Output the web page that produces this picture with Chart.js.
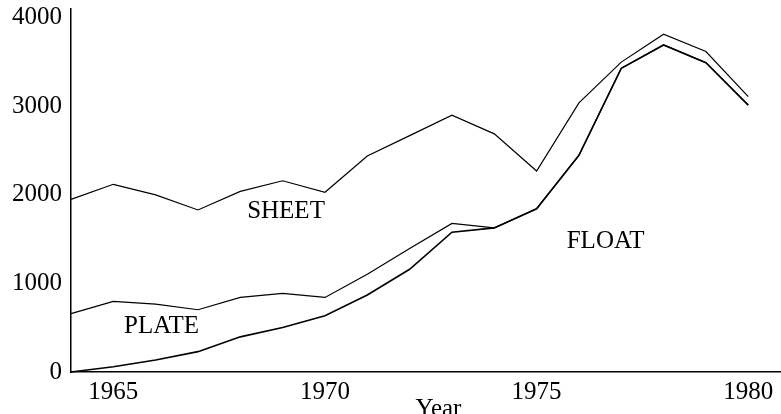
<!DOCTYPE html>
<html>
<head>
<meta charset="utf-8">
<script src="https://cdn.jsdelivr.net/npm/chart.js@4"></script>
<style>
  html, body { margin: 0; padding: 0; background: #fff; }
  #wrap { width: 781px; height: 414px; }
</style>
</head>
<body>
<div id="wrap"><canvas id="c" width="781" height="414"></canvas></div>
<script>
const years = [1964,1965,1966,1967,1968,1969,1970,1971,1972,1973,1974,1975,1976,1977,1978,1979,1980];
const sheet = [1950,2120,2000,1830,2040,2160,2030,2440,2670,2900,2690,2270,3040,3500,3815,3620,3110];
const plate = [660,797,767,703,842,887,842,1105,1395,1678,1628,1844,2448,3430,3694,3494,3014];
const floatGlass = [0,60,136,230,397,502,635,870,1160,1579,1628,1844,2448,3430,3694,3494,3014];
const xTicks = [1965,1970,1975,1980];
const yTicks = [0,1000,2000,3000,4000];
const seriesLabels = [
  { text: 'SHEET', x: 1969.08, y: 1740 },
  { text: 'PLATE', x: 1966.14, y: 441 },
  { text: 'FLOAT', x: 1976.63, y: 1401 }
];
const axisTitleX = { text: 'Year', x: 1972.68, y: -497 };

const FONT = '"Liberation Serif", "Times New Roman", Times, serif';

const toPts = (arr) => years.map((yr, i) => ({ x: yr, y: arr[i] }));

const labelPlugin = {
  id: 'labels',
  afterDraw(chart) {
    const ctx = chart.ctx;
    const xs = chart.scales.x, ys = chart.scales.y;
    ctx.save();
    ctx.fillStyle = '#000';
    ctx.font = '25px ' + FONT;
    ctx.textAlign = 'center';
    ctx.textBaseline = 'alphabetic';
    seriesLabels.concat([axisTitleX]).forEach(l => {
      ctx.fillText(l.text, xs.getPixelForValue(l.x), ys.getPixelForValue(l.y));
    });
    ctx.restore();
  }
};

new Chart(document.getElementById('c'), {
  type: 'line',
  data: {
    datasets: [
      { label: 'SHEET', data: toPts(sheet), borderColor: '#000', borderWidth: 1.2, pointRadius: 0, tension: 0, fill: false },
      { label: 'PLATE', data: toPts(plate), borderColor: '#000', borderWidth: 1.2, pointRadius: 0, tension: 0, fill: false },
      { label: 'FLOAT', data: toPts(floatGlass), borderColor: '#000', borderWidth: 1.6, pointRadius: 0, tension: 0, fill: false }
    ]
  },
  options: {
    responsive: false,
    animation: false,
    devicePixelRatio: 1,
    clip: false,
    layout: { padding: { left: 0, top: 9, right: 1, bottom: 0 } },
    plugins: { legend: { display: false }, tooltip: { enabled: false } },
    scales: {
      x: {
        type: 'linear',
        min: 1964,
        max: 1980.75,
        afterFit: s => { s.height = 42; s.paddingLeft = 0; s.paddingRight = 0; },
        afterBuildTicks: s => { s.ticks = xTicks.map(v => ({ value: v })); },
        grid: { display: false, drawTicks: false },
        border: { display: true, color: '#000', width: 1.5 },
        ticks: { color: '#000', font: { family: FONT, size: 25 }, padding: 5, maxRotation: 0, autoSkip: false, callback: v => String(v) }
      },
      y: {
        type: 'linear',
        min: 0,
        max: 4100,
        afterFit: s => { s.width = 71; s.paddingTop = 0; s.paddingBottom = 0; },
        afterBuildTicks: s => { s.ticks = yTicks.map(v => ({ value: v })); },
        grid: { display: false, drawTicks: false },
        border: { display: true, color: '#000', width: 1.5 },
        ticks: { color: '#000', font: { family: FONT, size: 25 }, padding: 9, callback: v => String(v) }
      }
    }
  },
  plugins: [labelPlugin]
});
</script>
</body>
</html>
